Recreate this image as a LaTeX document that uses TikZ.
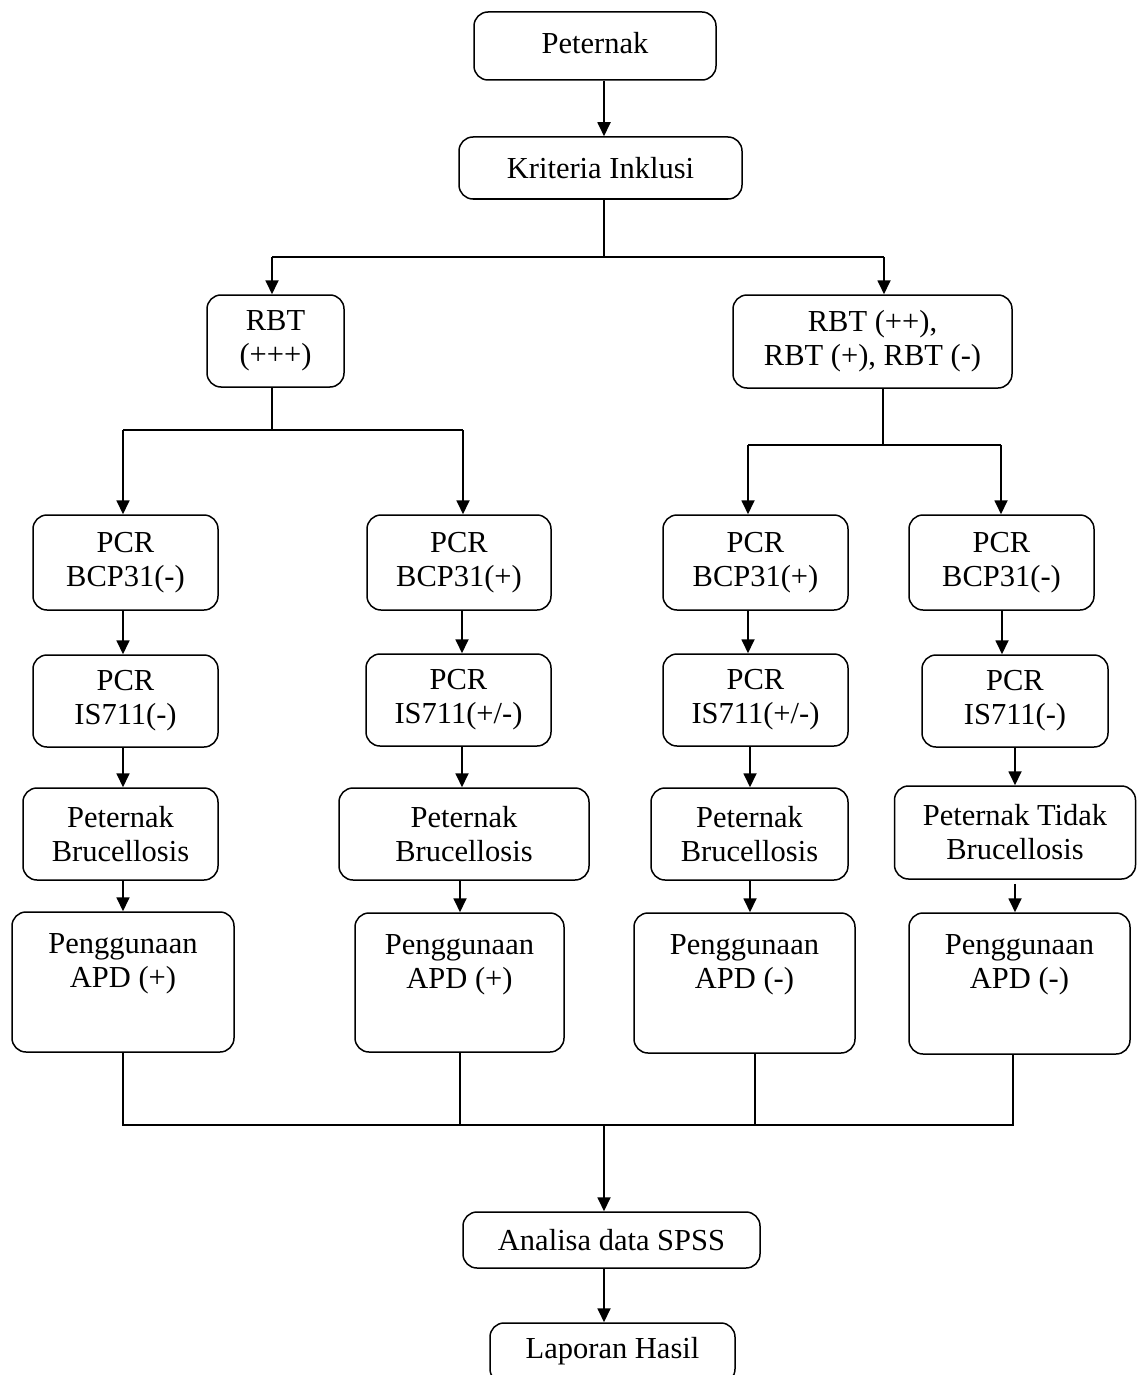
\documentclass[tikz,border=0pt]{standalone}
\usepackage{fontspec}
\setmainfont{Liberation Serif}
\usetikzlibrary{arrows.meta,calc}
\begin{document}
\begin{tikzpicture}[x=1pt,y=-1pt,
  box/.style={draw, line width=1.5pt, rounded corners=14pt, align=center, inner sep=0pt, font=\fontsize{30.5}{34}\selectfont},
  txt/.style={align=center, inner sep=0pt, font=\fontsize{30.5}{34}\selectfont},
  arr/.style={line width=1.8pt, -{Triangle[width=13pt,length=14pt]}},
  ln/.style={line width=1.8pt}]
\useasboundingbox (0,0) rectangle (1137,1375);
\clip (0,0) rectangle (1137,1375);
% top
\node[box, minimum width=242pt, minimum height=68pt] (pet) at (595,46) {};
\node[txt] (pett) at (595,43) {Peternak};
\node[box, minimum width=283pt, minimum height=62pt] (kri) at (600.5,168) {Kriteria Inklusi};
\node[box, minimum width=137pt, minimum height=92pt] (rbt1) at (275.5,341) {RBT\\(+++)};
\node[box, minimum width=279pt, minimum height=93pt] (rbt2) at (872.5,341.5) {RBT (++),\\RBT (+), RBT (-)};
% BCP31 row
\node[box, minimum width=185pt, minimum height=95pt] (a1) at (125.5,562.5) {PCR\\BCP31(-)};
\node[box, minimum width=184pt, minimum height=95pt] (a2) at (459,562.5) {PCR\\BCP31(+)};
\node[box, minimum width=185pt, minimum height=95pt] (a3) at (755.5,562.5) {PCR\\BCP31(+)};
\node[box, minimum width=185pt, minimum height=95pt] (a4) at (1001.5,562.5) {PCR\\BCP31(-)};
% IS711 row
\node[box, minimum width=185pt, minimum height=92pt] (b1) at (125.5,701) {PCR\\IS711(-)};
\node[box, minimum width=185pt, minimum height=92pt] (b2) at (458.5,700) {PCR\\IS711(+/-)};
\node[box, minimum width=185pt, minimum height=92pt] (b3) at (755.5,700) {PCR\\IS711(+/-)};
\node[box, minimum width=186pt, minimum height=92pt] (b4) at (1015,701) {PCR\\IS711(-)};
% Peternak row
\node[box, minimum width=195pt, minimum height=92pt] (c1) at (120.5,834) {Peternak\\Brucellosis};
\node[box, minimum width=250pt, minimum height=92pt] (c2) at (464,834) {Peternak\\Brucellosis};
\node[box, minimum width=197pt, minimum height=92pt] (c3) at (749.5,834) {Peternak\\Brucellosis};
\node[box, minimum width=241pt, minimum height=93pt] (c4) at (1015,832.5) {Peternak Tidak\\Brucellosis};
% APD row
\node[box, minimum width=222pt, minimum height=140pt] (d1) at (123,982) {};
\node[box, minimum width=209pt, minimum height=139pt] (d2) at (459.5,982.5) {};
\node[box, minimum width=221pt, minimum height=140pt] (d3) at (744.5,983) {};
\node[box, minimum width=221pt, minimum height=141pt] (d4) at (1019.5,983.5) {};
\node[txt] (d1t) at ([yshift=-52pt]d1.north) {Penggunaan\\APD (+)};
\node[txt] (d2t) at ([yshift=-52pt]d2.north) {Penggunaan\\APD (+)};
\node[txt] (d3t) at ([yshift=-52pt]d3.north) {Penggunaan\\APD (-)};
\node[txt] (d4t) at ([yshift=-52pt]d4.north) {Penggunaan\\APD (-)};
% bottom
\node[box, minimum width=297pt, minimum height=56pt] (ana) at (611.5,1240) {Analisa data SPSS};
\node[box, minimum width=245pt, minimum height=60pt] (lap) at (612.5,1353) {};
\node[txt] (lapt) at (612.5,1351) {Laporan Hasil};
% junction coordinates
\coordinate (k1) at (604,257);
\coordinate (kL) at (272,257);
\coordinate (kR) at (884,257);
\coordinate (r1) at (272,430);
\coordinate (r1L) at (123,430);
\coordinate (r1R) at (463,430);
\coordinate (r2) at (883,445);
\coordinate (r2L) at (748,445);
\coordinate (r2R) at (1001,445);
\coordinate (m) at (604,1125);
% connectors
\draw[arr] ([xshift=9pt]pet.south) -- ([xshift=9pt]pet.south |- kri.north);
\draw[ln] (kri.south -| k1) -- (k1);
\draw[ln] (kL) -- (kR);
\draw[arr] (kL) -- (kL |- rbt1.north);
\draw[arr] (kR) -- (kR |- rbt2.north);
\draw[ln] (rbt1.south -| r1) -- (r1);
\draw[ln] (r1L) -- (r1R);
\draw[arr] (r1L) -- (r1L |- a1.north);
\draw[arr] (r1R) -- (r1R |- a2.north);
\draw[ln] (rbt2.south -| r2) -- (r2);
\draw[ln] (r2L) -- (r2R);
\draw[arr] (r2L) -- (r2L |- a3.north);
\draw[arr] (r2R) -- (r2R |- a4.north);
\draw[arr] (a1.south -| r1L) -- (r1L |- b1.north);
\draw[arr] ([xshift=3pt]a2.south) -- ([xshift=3pt]a2.south |- b2.north);
\draw[arr] (a3.south -| r2L) -- (r2L |- b3.north);
\draw[arr] ([xshift=0.5pt]a4.south) -- ([xshift=0.5pt]a4.south |- b4.north);
\draw[arr] (b1.south -| r1L) -- (r1L |- c1.north);
\draw[arr] ([xshift=3.5pt]b2.south) -- ([xshift=3.5pt]b2.south |- c2.north);
\draw[arr] ([xshift=-5.5pt]b3.south) -- ([xshift=-5.5pt]b3.south |- c3.north);
\draw[arr] (b4.south) -- (b4.south |- c4.north);
\draw[arr] (c1.south -| d1.south) -- (d1.north);
\draw[arr] ([xshift=-4pt]c2.south) -- ([xshift=-4pt]c2.south |- d2.north);
\draw[arr] ([xshift=0.5pt]c3.south) -- ([xshift=0.5pt]c3.south |- d3.north);
\draw[arr] ([yshift=-4pt]c4.south -| b4.south) -- (b4.south |- d4.north);
\draw[ln] (d1.south) -- (d1.south |- m) -- ([xshift=-6.5pt]d4.south |- m) -- ([xshift=-6.5pt]d4.south);
\draw[ln] ([xshift=0.5pt]d2.south) -- ([xshift=0.5pt]d2.south |- m);
\draw[ln] ([xshift=10.5pt]d3.south) -- ([xshift=10.5pt]d3.south |- m);
\draw[arr] (m) -- (m |- ana.north);
\draw[arr] ([xshift=-7.5pt]ana.south) -- ([xshift=-7.5pt]ana.south |- lap.north);
\end{tikzpicture}
\end{document}
